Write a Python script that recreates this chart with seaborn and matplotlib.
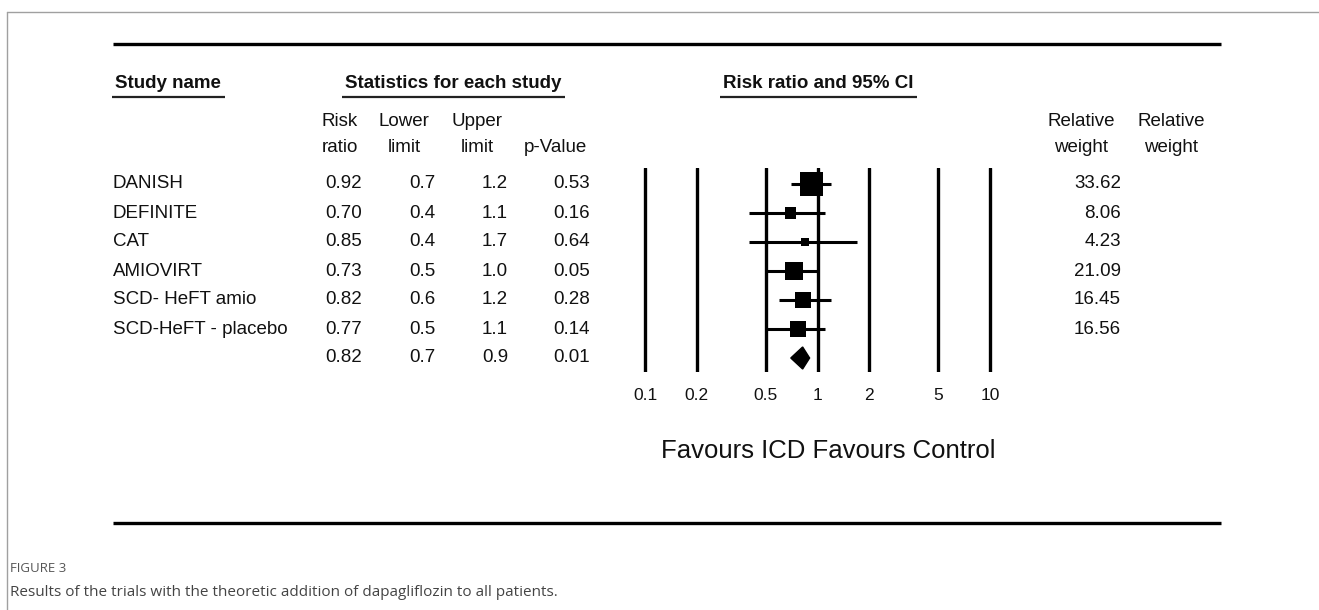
import numpy as np
import pandas as pd
import matplotlib
matplotlib.use('Agg')
import matplotlib.pyplot as plt
import matplotlib.transforms as mtransforms
from matplotlib.patches import Polygon
import seaborn as sns

sns.set_style('white')
plt.rcParams['font.family'] = ['Liberation Sans', 'DejaVu Sans']

# data
studies = ['DANISH', 'DEFINITE', 'CAT', 'AMIOVIRT', 'SCD- HeFT amio', 'SCD-HeFT - placebo']
risk_ratio = [0.92, 0.70, 0.85, 0.73, 0.82, 0.77]
lower = [0.7, 0.4, 0.4, 0.5, 0.6, 0.5]
upper = [1.2, 1.1, 1.7, 1.0, 1.2, 1.1]
p_value = [0.53, 0.16, 0.64, 0.05, 0.28, 0.14]
weight = [33.62, 8.06, 4.23, 21.09, 16.45, 16.56]

pooled_rr = 0.82
pooled_lower = 0.7
pooled_upper = 0.9
pooled_p = 0.01

xticks = [0.1, 0.2, 0.5, 1, 2, 5, 10]
tick_labels = ['0.1', '0.2', '0.5', '1', '2', '5', '10']

df = pd.DataFrame({'study': studies, 'rr': risk_ratio, 'lo': lower, 'hi': upper,
                   'p': p_value, 'w': weight})
df['row'] = np.arange(len(df))
pooled_row = len(df)

W, H = 1319, 610
fig = plt.figure(figsize=(W / 100, H / 100), dpi=100)

# background axes in pixel units for the table text
bg = fig.add_axes([0, 0, 1, 1])
bg.set_xlim(0, W)
bg.set_ylim(H, 0)
bg.axis('off')

# forest plot area (pixels)
left_px, right_px, top_px, bot_px = 620, 1015, 168, 372
x01_px, ppd = 645, 172.5
row0_px, row_step = 184, 29
ax = fig.add_axes([left_px / W, (H - bot_px) / H, (right_px - left_px) / W, (bot_px - top_px) / H])
ax.set_facecolor('none')
ax.set_xscale('log')
ax.set_xlim(10 ** (-1 - (x01_px - left_px) / ppd), 10 ** (-1 + (right_px - x01_px) / ppd))
ax.set_ylim(pooled_row + (bot_px - row0_px - pooled_row * row_step) / row_step,
            -(row0_px - top_px) / row_step)
for s in ax.spines.values():
    s.set_visible(False)
ax.set_xticks([])
ax.set_yticks([])
ax.minorticks_off()

ink = '#111111'

for t in xticks:
    ax.axvline(t, color='black', lw=2.4, zorder=1)

ax.hlines(df['row'], df['lo'], df['hi'], color='black', lw=2.2, zorder=2)
sns.scatterplot(data=df, x='rr', y='row', size='w', sizes=(0, 280), size_norm=(0, max(weight)),
                marker='s', color='black', edgecolor='none', linewidth=0, legend=False,
                ax=ax, zorder=3)
ax.set_xlabel('')
ax.set_ylabel('')
dh = 0.38
ax.add_patch(Polygon([(pooled_lower, pooled_row), (pooled_rr, pooled_row - dh),
                      (pooled_upper, pooled_row), (pooled_rr, pooled_row + dh)],
                     closed=True, color='black', zorder=3))

# tick labels under the lines
tx = mtransforms.blended_transform_factory(ax.transData, bg.transData)
for t, lab in zip(xticks, tick_labels):
    bg.text(t, 395, lab, transform=tx, ha='center', va='center', fontsize=12.5, color=ink)
bg.text(828, 451, 'Favours ICD Favours Control', ha='center', va='center', fontsize=18.5, color=ink)

# table rows
ty = mtransforms.blended_transform_factory(bg.transData, ax.transData)
fs = 13.5
for _, r in df.iterrows():
    y = r['row']
    bg.text(113, y, r['study'], transform=ty, ha='left', va='center', fontsize=fs, color=ink)
    bg.text(362, y, f"{r['rr']:.2f}", transform=ty, ha='right', va='center', fontsize=fs, color=ink)
    bg.text(435, y, f"{r['lo']:.1f}", transform=ty, ha='right', va='center', fontsize=fs, color=ink)
    bg.text(508, y, f"{r['hi']:.1f}", transform=ty, ha='right', va='center', fontsize=fs, color=ink)
    bg.text(590, y, f"{r['p']:.2f}", transform=ty, ha='right', va='center', fontsize=fs, color=ink)
    bg.text(1121, y, f"{r['w']:.2f}", transform=ty, ha='right', va='center', fontsize=fs, color=ink)
bg.text(362, pooled_row, f"{pooled_rr:.2f}", transform=ty, ha='right', va='center', fontsize=fs, color=ink)
bg.text(435, pooled_row, f"{pooled_lower:.1f}", transform=ty, ha='right', va='center', fontsize=fs, color=ink)
bg.text(508, pooled_row, f"{pooled_upper:.1f}", transform=ty, ha='right', va='center', fontsize=fs, color=ink)
bg.text(590, pooled_row, f"{pooled_p:.2f}", transform=ty, ha='right', va='center', fontsize=fs, color=ink)

# column headers
col_heads = [(340, 'Risk', 'ratio'), (404, 'Lower', 'limit'), (477, 'Upper', 'limit'),
             (555, '', 'p-Value'), (1081, 'Relative', 'weight'), (1171, 'Relative', 'weight')]
for x, top, bottom in col_heads:
    bg.text(x, 122, top, ha='center', va='center', fontsize=fs, color=ink)
    bg.text(x, 147, bottom, ha='center', va='center', fontsize=fs, color=ink)

# bold section headings with underline
heads = [bg.text(115, 83, 'Study name', ha='left', va='center', fontsize=13.5, fontweight='bold', color=ink),
         bg.text(453, 83, 'Statistics for each study', ha='center', va='center', fontsize=13.5, fontweight='bold', color=ink),
         bg.text(818, 83, 'Risk ratio and 95% CI', ha='center', va='center', fontsize=13.5, fontweight='bold', color=ink)]
fig.canvas.draw()
inv = bg.transData.inverted()
for h in heads:
    bb = h.get_window_extent()
    (x0, _), (x1, _) = inv.transform([(bb.x0, bb.y0), (bb.x1, bb.y1)])
    bg.plot([x0 - 3, x1 + 4], [97, 97], color='#222222', lw=1.6, solid_capstyle='butt')

# rules and frame
bg.plot([113, 1221], [44, 44], color='black', lw=2.4, solid_capstyle='butt')
bg.plot([113, 1221], [523, 523], color='black', lw=2.4, solid_capstyle='butt')
bg.plot([7, 7], [12, H], color='#a0a0a0', lw=1.0)
bg.plot([7, W], [12, 12], color='#a0a0a0', lw=1.0)

# caption
bg.text(10, 568, 'FIGURE 3', ha='left', va='center', fontsize=9.5, color='#555555',
        family=['Open Sans', 'DejaVu Sans'])
bg.text(10, 592, 'Results of the trials with the theoretic addition of dapagliflozin to all patients.',
        ha='left', va='center', fontsize=11, color='#444444', family=['Open Sans', 'DejaVu Sans'])

fig.savefig('out.png', dpi=100)
